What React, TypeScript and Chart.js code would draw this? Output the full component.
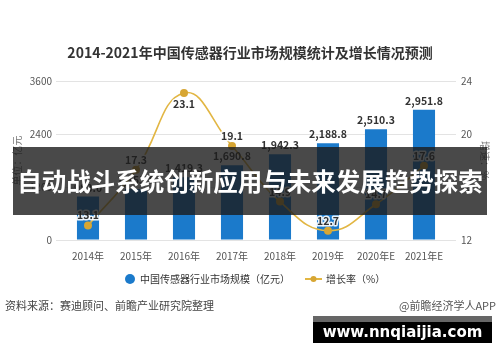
import React, { useEffect, useRef } from "react";
import { Chart, registerables } from "chart.js";

Chart.register(...registerables);

const chartTitle = "2014-2021年中国传感器行业市场规模统计及增长情况预测";
const categories = ["2014年", "2015年", "2016年", "2017年", "2018年", "2019年", "2020年E", "2021年E"];
const marketSize = [983.0, 1153.0, 1419.3, 1690.8, 1942.3, 2188.8, 2510.3, 2951.8];
const growthRate = [13.1, 17.3, 23.1, 19.1, 14.9, 12.7, 14.7, 17.6];
const leftTicks = { min: 0, max: 3600, step: 1200 };
const rightTicks = { min: 12, max: 24, step: 4 };
const seriesNames = ["中国传感器行业市场规模（亿元）", "增长率（%）"];
const leftAxisTitle = "单位：亿元";
const rightAxisTitle = "增速：%";
const sourceText = "资料来源：赛迪顾问、前瞻产业研究院整理";
const creditText = "@前瞻经济学人APP";
const bannerText = "自动战斗系统创新应用与未来发展趋势探索";
const siteText = "www.nnqiaijia.com";

const FONT = "'Noto Sans CJK SC', 'Noto Sans', sans-serif";
const BAR_COLOR = "#1b7acb";
const LINE_COLOR = "#e2b643";
const POINT_COLOR = "#d7a633";

const fmt = (v: number) =>
  v.toLocaleString("en-US", { minimumFractionDigits: 1, maximumFractionDigits: 1 });

const decorPlugin = {
  id: "decor",
  beforeDraw(chart: any) {
    const ctx = chart.ctx;
    ctx.save();
    ctx.fillStyle = "#ffffff";
    ctx.fillRect(0, 0, chart.width, chart.height);
    ctx.restore();
  },
  afterDatasetsDraw(chart: any) {
    const ctx = chart.ctx;
    ctx.save();
    const barMeta = chart.getDatasetMeta(0);
    ctx.font = `bold 10.5px ${FONT}`;
    ctx.fillStyle = "#333";
    ctx.textAlign = "center";
    ctx.textBaseline = "middle";
    barMeta.data.forEach((el: any, i: number) => {
      ctx.fillText(fmt(marketSize[i]), el.x, el.y - 9);
    });
    const lineMeta = chart.getDatasetMeta(1);
    const maxV = Math.max(...growthRate);
    lineMeta.data.forEach((el: any, i: number) => {
      const below = growthRate[i] === maxV;
      const y = below ? el.y + 11 : el.y - 10;
      ctx.lineWidth = 3;
      ctx.strokeStyle = "rgba(255,255,255,0.9)";
      ctx.lineJoin = "round";
      ctx.strokeText(String(growthRate[i]), el.x, y);
      ctx.fillStyle = "#333";
      ctx.fillText(String(growthRate[i]), el.x, y);
    });
    ctx.restore();
  },
  afterDraw(chart: any) {
    const ctx = chart.ctx;
    const area = chart.chartArea;
    ctx.save();
    ctx.font = `bold 14px ${FONT}`;
    ctx.fillStyle = "#333";
    ctx.textAlign = "center";
    ctx.textBaseline = "middle";
    ctx.fillText(chartTitle, 250, 53);

    const midY = (area.top + area.bottom) / 2;
    ctx.font = `10px ${FONT}`;
    ctx.fillStyle = "#777";
    ctx.save();
    ctx.translate(17, midY);
    ctx.rotate(-Math.PI / 2);
    ctx.fillText(leftAxisTitle, 0, 0);
    ctx.restore();
    ctx.save();
    ctx.translate(485, midY);
    ctx.rotate(Math.PI / 2);
    ctx.fillText(rightAxisTitle, 0, 0);
    ctx.restore();

    const ly = 279;
    ctx.fillStyle = BAR_COLOR;
    ctx.beginPath();
    ctx.arc(130, ly, 5, 0, Math.PI * 2);
    ctx.fill();
    ctx.font = `10px ${FONT}`;
    ctx.fillStyle = "#333";
    ctx.textAlign = "left";
    ctx.fillText(seriesNames[0], 140, ly);
    ctx.strokeStyle = LINE_COLOR;
    ctx.lineWidth = 2;
    ctx.beginPath();
    ctx.moveTo(305, ly);
    ctx.lineTo(322, ly);
    ctx.stroke();
    ctx.fillStyle = POINT_COLOR;
    ctx.beginPath();
    ctx.arc(313.5, ly, 3, 0, Math.PI * 2);
    ctx.fill();
    ctx.fillStyle = "#333";
    ctx.fillText(seriesNames[1], 326, ly);

    ctx.font = `11px ${FONT}`;
    ctx.fillStyle = "#444";
    ctx.textAlign = "left";
    ctx.fillText(sourceText, 5, 306);
    ctx.textAlign = "right";
    ctx.fillStyle = "#555";
    ctx.fillText(creditText, 496, 306);

    ctx.fillStyle = "rgba(28,28,28,0.8)";
    ctx.fillRect(13, 147, 474, 68);
    ctx.font = `bold 24.5px ${FONT}`;
    ctx.fillStyle = "#ffffff";
    ctx.textAlign = "center";
    ctx.fillText(bannerText, 250, 182);

    ctx.fillStyle = "#666";
    ctx.fillRect(313, 316, 179, 6);
    ctx.fillStyle = "#000";
    ctx.fillRect(313, 322, 179, 21);
    ctx.font = `bold 15px 'DejaVu Sans', sans-serif`;
    ctx.fillStyle = "#fff";
    ctx.fillText(siteText, 402.5, 333);
    ctx.restore();
  },
};

export default function App() {
  const ref = useRef<HTMLCanvasElement | null>(null);
  useEffect(() => {
    document.body.style.margin = "0";
    const canvas = ref.current!;
    const chart = new Chart(canvas, {
      type: "bar",
      data: {
        labels: categories,
        datasets: [
          {
            type: "bar",
            label: seriesNames[0],
            data: marketSize,
            backgroundColor: BAR_COLOR,
            barPercentage: 0.46,
            categoryPercentage: 1,
            yAxisID: "y",
            order: 1,
          },
          {
            type: "line",
            label: seriesNames[1],
            data: growthRate,
            borderColor: LINE_COLOR,
            borderWidth: 1.6,
            tension: 0.45,
            pointRadius: 4,
            pointBackgroundColor: POINT_COLOR,
            pointBorderWidth: 0,
            yAxisID: "y1",
            order: 0,
          } as any,
        ],
      },
      options: {
        responsive: false,
        animation: false,
        devicePixelRatio: 1,
        layout: { padding: { top: 81, bottom: 100, left: 0, right: 0 } },
        plugins: { legend: { display: false }, tooltip: { enabled: false }, title: { display: false } },
        scales: {
          x: {
            grid: { display: false },
            border: { display: false },
            ticks: { color: "#555", font: { family: FONT, size: 10 }, padding: 2 },
            afterFit: (s: any) => {
              s.height = 22;
            },
          },
          y: {
            position: "left",
            min: leftTicks.min,
            max: leftTicks.max,
            ticks: {
              stepSize: leftTicks.step,
              color: "#555",
              font: { family: FONT, size: 10 },
              padding: 4,
              callback: (v: any) => String(v),
            },
            grid: { color: "#e3e3e3", tickLength: 8, lineWidth: 1 },
            border: { display: false },
            afterFit: (s: any) => {
              s.width = 64;
            },
          },
          y1: {
            position: "right",
            min: rightTicks.min,
            max: rightTicks.max,
            ticks: {
              stepSize: rightTicks.step,
              color: "#555",
              font: { family: FONT, size: 10 },
              padding: 5,
              callback: (v: any) => String(v),
            },
            grid: { drawOnChartArea: false, color: "#e3e3e3", tickLength: 8 },
            border: { display: false },
            afterFit: (s: any) => {
              s.width = 52;
            },
          },
        },
      },
      plugins: [decorPlugin],
    });
    return () => chart.destroy();
  }, []);
  return (
    <div style={{ width: 500, height: 362 }}>
      <canvas ref={ref} width={500} height={362} style={{ display: "block" }} />
    </div>
  );
}
